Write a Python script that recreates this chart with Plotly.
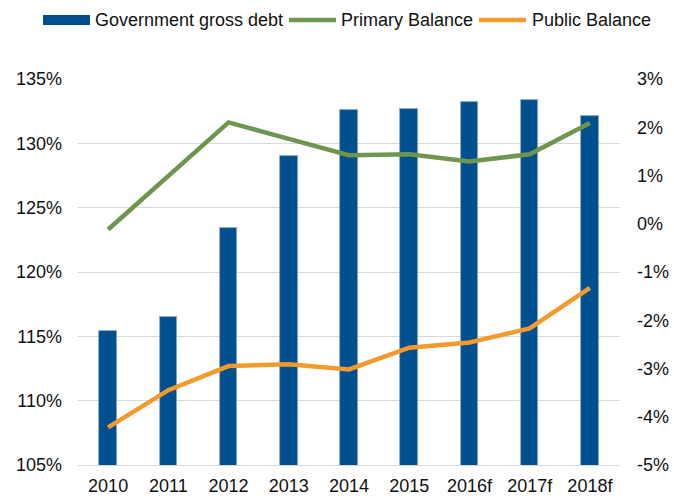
import plotly.graph_objects as go

# Chart data
years = ["2010", "2011", "2012", "2013", "2014", "2015", "2016f", "2017f", "2018f"]
gross_debt = [115.4, 116.5, 123.4, 129.0, 132.6, 132.7, 133.2, 133.4, 132.1]   # % of GDP, left axis
primary_balance = [-0.12, 1.0, 2.1, 1.76, 1.42, 1.44, 1.29, 1.44, 2.09]        # % of GDP, right axis
public_balance = [-4.22, -3.45, -2.95, -2.91, -3.02, -2.57, -2.46, -2.17, -1.33]  # % of GDP, right axis

left_ticks = [105, 110, 115, 120, 125, 130, 135]
right_ticks = [-5, -4, -3, -2, -1, 0, 1, 2, 3]

BLUE = "#004F8F"
GREEN = "#6F964F"
ORANGE = "#F39A2C"
FONT = "Liberation Sans, Arial, sans-serif"
TEXT = "#111111"

W, H = 674, 500
ML, MR, MT, MB = 78, 54, 79, 35
PW, PH = W - ML - MR, H - MT - MB


def px_x(x):
    return (x - ML) / PW


def px_y(y):
    return (H - MB - y) / PH


fig = go.Figure()

fig.add_trace(go.Bar(
    x=years, y=gross_debt, name="Government gross debt",
    marker=dict(color=BLUE, line=dict(color="#8EA8C6", width=0.8)),
    width=0.29, yaxis="y", showlegend=False,
))
fig.add_trace(go.Scatter(
    x=years, y=primary_balance, name="Primary Balance", mode="lines",
    line=dict(color=GREEN, width=4.5), yaxis="y2", showlegend=False,
))
fig.add_trace(go.Scatter(
    x=years, y=public_balance, name="Public Balance", mode="lines",
    line=dict(color=ORANGE, width=4.5), yaxis="y2", showlegend=False,
))

# Legend drawn along the top
shapes = [
    dict(type="rect", xref="paper", yref="paper",
         x0=px_x(43), x1=px_x(90), y0=px_y(25), y1=px_y(15),
         fillcolor=BLUE, line=dict(width=0)),
    dict(type="line", xref="paper", yref="paper",
         x0=px_x(289), x1=px_x(336), y0=px_y(20), y1=px_y(20),
         line=dict(color=GREEN, width=4.5)),
    dict(type="line", xref="paper", yref="paper",
         x0=px_x(479), x1=px_x(526), y0=px_y(20), y1=px_y(20),
         line=dict(color=ORANGE, width=4.5)),
]
annotations = []
for label, x in [("Government gross debt", 93), ("Primary Balance", 339), ("Public Balance", 530)]:
    annotations.append(dict(
        text=label, xref="paper", yref="paper", x=px_x(x), y=px_y(20),
        xanchor="left", yanchor="middle", showarrow=False,
        font=dict(family=FONT, size=18, color=TEXT),
    ))

fig.update_layout(
    width=W, height=H,
    margin=dict(l=ML, r=MR, t=MT, b=MB, pad=0, autoexpand=False),
    paper_bgcolor="white", plot_bgcolor="white",
    font=dict(family=FONT, size=18, color=TEXT),
    showlegend=False,
    bargap=0,
    shapes=shapes,
    annotations=annotations,
    xaxis=dict(
        type="category", showgrid=False, zeroline=False, automargin=False,
        showline=True, linecolor="#D9D9D9", linewidth=1.2,
        ticks="", ticklabelstandoff=4,
        tickfont=dict(family=FONT, size=18, color=TEXT),
    ),
    yaxis=dict(
        range=[105, 135], tickvals=left_ticks, automargin=False,
        ticktext=[f"{v}%" for v in left_ticks],
        showgrid=True, gridcolor="#D9D9D9", gridwidth=1.2,
        zeroline=False, showline=False, ticks="", ticklabelstandoff=15,
        tickfont=dict(family=FONT, size=18, color=TEXT),
    ),
    yaxis2=dict(
        range=[-5, 3], tickvals=right_ticks, automargin=False,
        ticktext=[f"{v}%" for v in right_ticks],
        overlaying="y", side="right", anchor="x",
        showgrid=False, zeroline=False, showline=False, ticks="",
        ticklabelstandoff=16,
        tickfont=dict(family=FONT, size=18, color=TEXT),
    ),
)

fig.write_html("out.html")
